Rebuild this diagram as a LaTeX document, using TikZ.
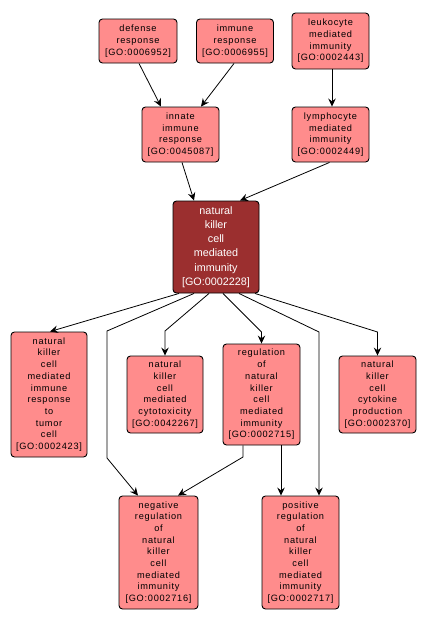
\documentclass[tikz,border=0pt]{standalone}
\usepackage{fontspec}
\setmainfont{Liberation Sans}
\newfontfamily\nodefont[LetterSpace=8]{Liberation Sans}
\usetikzlibrary{arrows.meta}
\definecolor{salmon}{HTML}{FF8C8C}
\definecolor{darkred}{HTML}{9B2F2F}
\tikzset{
  gonode/.style={draw=black, line width=0.9pt, rounded corners=3.5pt, fill=salmon, align=center, inner sep=0pt,
    font=\nodefont\fontsize{9.2}{11.7}\selectfont, text=black},
  mainnode/.style={gonode, fill=darkred, text=white, font=\fontsize{10.8}{14.2}\selectfont},
  edge/.style={draw=black, line width=0.8pt, -{Stealth[length=8pt,width=7.5pt,inset=2.8pt]}},
}
\begin{document}
\begin{tikzpicture}[x=1pt,y=-1pt]
\useasboundingbox (0,0) rectangle (427,624);
\node[gonode, minimum width=78pt, minimum height=44pt] (def) at (138,41) {defense\\response\\{[}GO:0006952{]}};
\node[gonode, minimum width=77pt, minimum height=44pt] (imm) at (235,41) {immune\\response\\{[}GO:0006955{]}};
\node[gonode, minimum width=77pt, minimum height=56pt] (leu) at (330.5,41) {leukocyte\\mediated\\immunity\\{[}GO:0002443{]}};
\node[gonode, minimum width=77pt, minimum height=55pt] (inn) at (180.5,134.5) {innate\\immune\\response\\{[}GO:0045087{]}};
\node[gonode, minimum width=77pt, minimum height=55pt] (lym) at (330.5,134.5) {lymphocyte\\mediated\\immunity\\{[}GO:0002449{]}};
\node[mainnode, minimum width=86pt, minimum height=92pt] (nk) at (216,247) {natural\\killer\\cell\\mediated\\immunity\\{[}GO:0002228{]}};
\node[gonode, minimum width=76pt, minimum height=125pt] (tum) at (49,394.5) {natural\\killer\\cell\\mediated\\immune\\response\\to\\tumor\\cell\\{[}GO:0002423{]}};
\node[gonode, minimum width=76pt, minimum height=77pt] (cyt) at (165,394.5) {natural\\killer\\cell\\mediated\\cytotoxicity\\{[}GO:0042267{]}};
\node[gonode, minimum width=77pt, minimum height=101pt] (reg) at (261.5,394.5) {regulation\\of\\natural\\killer\\cell\\mediated\\immunity\\{[}GO:0002715{]}};
\node[gonode, minimum width=77pt, minimum height=77pt] (cyk) at (377.5,394.5) {natural\\killer\\cell\\cytokine\\production\\{[}GO:0002370{]}};
\node[gonode, minimum width=79pt, minimum height=113pt] (neg) at (158.5,552.5) {negative\\regulation\\of\\natural\\killer\\cell\\mediated\\immunity\\{[}GO:0002716{]}};
\node[gonode, minimum width=77pt, minimum height=113pt] (pos) at (300.5,552.5) {positive\\regulation\\of\\natural\\killer\\cell\\mediated\\immunity\\{[}GO:0002717{]}};
% bend coordinates
\coordinate (bn1) at (107,331);
\coordinate (bn2) at (107,458);
\coordinate (bc) at (165,331);
\coordinate (br) at (261.5,332);
\coordinate (bp) at (319,332);
\coordinate (bk) at (377.5,332);
\coordinate (brn) at (243,457);
% edges
\draw[edge] ([xshift=1pt]def.south) -- ([xshift=-19.5pt]inn.north);
\draw[edge] ([xshift=-1pt]imm.south) -- ([xshift=20.5pt]inn.north);
\draw[edge] ([xshift=1.5pt]leu.south) -- ([xshift=1.5pt]lym.north);
\draw[edge] ([xshift=1.5pt]inn.south) -- ([xshift=-22pt]nk.north);
\draw[edge] ([xshift=-1pt]lym.south) -- ([xshift=24pt]nk.north);
\draw[edge] ([xshift=-37pt]nk.south) -- ([xshift=1pt]tum.north);
\draw[edge] ([xshift=-22pt]nk.south) -- (bn1) -- (bn2) -- ([xshift=-20.5pt]neg.north);
\draw[edge] ([xshift=-7pt]nk.south) -- (bc) -- (cyt.north);
\draw[edge] ([xshift=7pt]nk.south) -- (br) -- (reg.north);
\draw[edge] ([xshift=23pt]nk.south) -- (bp) -- ([xshift=18.5pt]pos.north);
\draw[edge] ([xshift=39pt]nk.south) -- (bk) -- (cyk.north);
\draw[edge] ([xshift=-18.5pt]reg.south) -- (brn) -- ([xshift=19.5pt]neg.north);
\draw[edge] ([xshift=19.5pt]reg.south) -- ([xshift=-19.5pt]pos.north);
\end{tikzpicture}
\end{document}
